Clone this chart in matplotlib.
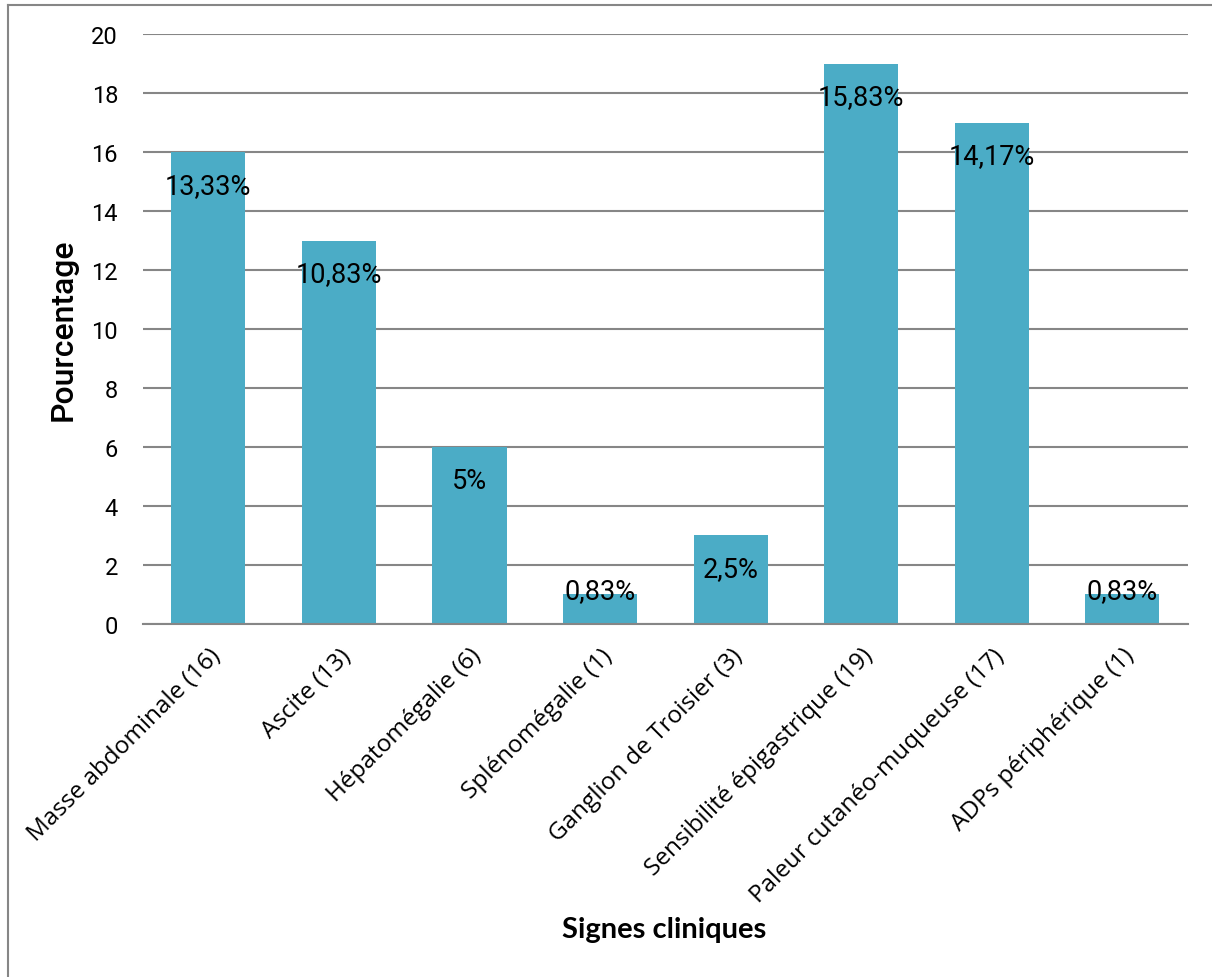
import numpy as np
import matplotlib
matplotlib.use("Agg")
import matplotlib.pyplot as plt
from matplotlib.lines import Line2D

# data
signes = ["Masse abdominale (16)", "Ascite (13)", "Hépatomégalie (6)",
          "Splénomégalie (1)", "Ganglion de Troisier (3)",
          "Sensibilité épigastrique (19)", "Paleur cutanéo-muqueuse (17)",
          "ADPs périphérique (1)"]
effectifs = [16, 13, 6, 1, 3, 19, 17, 1]
pourcents = ["13,33%", "10,83%", "5%", "0,83%", "2,5%", "15,83%", "14,17%", "0,83%"]
yticks = [0, 2, 4, 6, 8, 10, 12, 14, 16, 18, 20]

bar_col = "#4BACC6"
grid_col = "#868686"

fig = plt.figure(figsize=(12.12, 9.78), dpi=100)
ax = fig.add_axes([0.118, 0.361, 0.862, 0.603])

x = np.arange(len(signes))
ax.bar(x, effectifs, width=0.567, color=bar_col, zorder=3)

# data labels, inside end, kept above the axis for tiny bars
for xi, v, lab in zip(x, effectifs, pourcents):
    ax.text(xi, max(v - 1.12, 1.12), lab, ha="center", va="center",
            fontsize=19.5, family="Roboto", color="black", zorder=4)

ax.set_xlim(-0.5, len(signes) - 0.5)
ax.set_ylim(0, 20)
ax.set_yticks(yticks)
ax.yaxis.grid(True, color=grid_col, linewidth=1.5, zorder=0)
ax.set_axisbelow(True)
for s in ["left", "right", "top"]:
    ax.spines[s].set_visible(False)
ax.spines["bottom"].set_color(grid_col)
ax.spines["bottom"].set_linewidth(1.5)
ax.spines["bottom"].set_zorder(5)

ax.tick_params(axis="y", length=0, pad=18, labelsize=17)
for t in ax.get_yticklabels():
    t.set_family("Roboto")

ax.set_xticks(x)
ax.set_xticklabels(signes, rotation=45, ha="right", rotation_mode="anchor",
                   family="Open Sans", fontsize=17.5)
ax.tick_params(axis="x", length=0, pad=14)

ax.set_ylabel("Pourcentage", family="Roboto", fontsize=23, fontweight="medium",
              labelpad=10)
fig.text(0.548, 0.049, "Signes cliniques", family="Lato", fontsize=21,
         fontweight="bold", ha="center", va="center")

# chart area border (only top and left visible in the crop)
fig.add_artist(Line2D([8 / 1212, 1], [1 - 6 / 978, 1 - 6 / 978],
                      transform=fig.transFigure, color=grid_col, linewidth=1.5))
fig.add_artist(Line2D([8 / 1212, 8 / 1212], [0, 1 - 6 / 978],
                      transform=fig.transFigure, color=grid_col, linewidth=1.5))

fig.savefig("out.png", dpi=100, facecolor="white")
